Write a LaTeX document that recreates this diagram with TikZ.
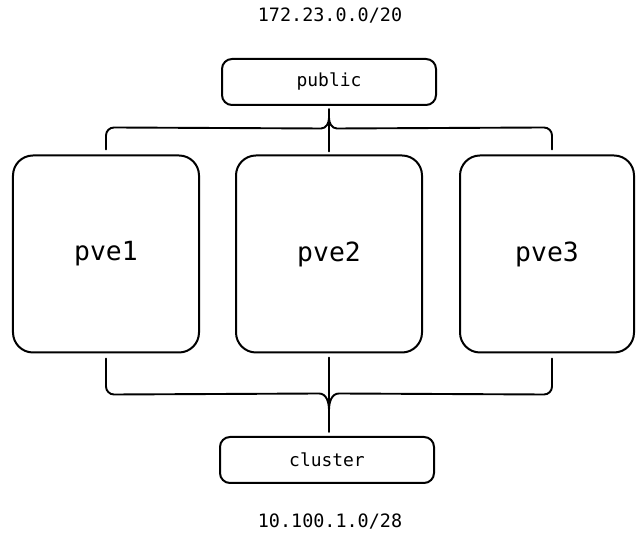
\documentclass[tikz,border=0pt]{standalone}
\usepackage{fontspec}
\setmonofont{DejaVu Sans Mono}
\usetikzlibrary{positioning}

\begin{document}
\begin{tikzpicture}[x=1bp,y=1bp]
  \tikzset{
    net/.style={
      draw,
      line width=2bp,
      rounded corners=10bp,
      minimum width=214bp,
      minimum height=46bp,
      anchor=center,
      font=\ttfamily\fontsize{18}{21}\selectfont
    },
    host/.style={
      draw,
      line width=2bp,
      rounded corners=20bp,
      minimum width=186bp,
      minimum height=197bp,
      anchor=center,
      font=\ttfamily\fontsize{26.5}{30}\selectfont
    },
    subnet/.style={
      font=\ttfamily\fontsize{18.5}{21}\selectfont
    },
    wire/.style={
      line width=1.9bp,
      line cap=round
    }
  }
  \useasboundingbox (0,0) rectangle (636,536);

  % Networks and their address ranges
    \node[subnet] at (330,520) (pubrange) {172.23.0.0/20};
    \node[net] at (329,454) (public) {public};
    \node[net] at (327,76) (cluster) {cluster};
    \node[subnet] at (330,14) (clurange) {10.100.1.0/28};

  % Proxmox hosts
    \node[host] at (106,282) (pve1) {pve1};
    \node[host] at (329,282) (pve2) {pve2};
    \node[host, minimum width=174bp] at (547,282) (pve3) {pve3};

  % Bridge to public
    \coordinate (topjoin) at (329,418);
    \draw[wire] ([yshift=-3bp]public.south) -- ([yshift=3bp]pve2.north);
    \draw[wire] ([yshift=5bp]pve1.north) -- ++(0,14) to[out=90,in=180] ++(8,8)
      -- (321,407.5) to[out=0,in=-90] (topjoin);
    \draw[wire] ([xshift=5bp,yshift=5bp]pve3.north) -- ++(0,14) to[out=90,in=0] ++(-8,8)
      -- (337,407.5) to[out=180,in=-90] (topjoin);

  % Bridge to cluster
    \coordinate (botjoin) at (329,126);
    \draw[wire] ([yshift=-4bp]pve2.south) -- ([yshift=4bp]pve2.south |- cluster.north);
    \draw[wire] ([yshift=-5bp]pve1.south) -- ++(0,-28) to[out=-90,in=180] ++(8,-8)
      -- (319,142.5) to[out=0,in=90] (botjoin);
    \draw[wire] ([xshift=5bp,yshift=-5bp]pve3.south) -- ++(0,-28) to[out=-90,in=0] ++(-8,-8)
      -- (339,142.5) to[out=180,in=90] (botjoin);

\end{tikzpicture}
\end{document}
